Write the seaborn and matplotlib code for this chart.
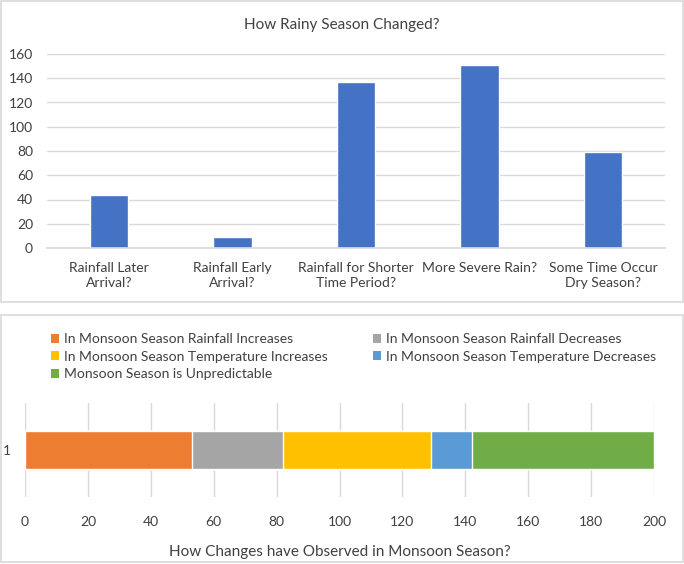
import numpy as np
import pandas as pd
import matplotlib
matplotlib.use("Agg")
import matplotlib.pyplot as plt
from matplotlib.patches import Rectangle, Patch
import seaborn as sns

# ---- data ----
rain_categories = ["Rainfall Later\nArrival?", "Rainfall Early\nArrival?",
                   "Rainfall for Shorter\nTime Period?", "More Severe Rain?",
                   "Some Time Occur\nDry Season?"]
rain_values = [44, 9, 137, 151, 79]
rain_yticks = [0, 20, 40, 60, 80, 100, 120, 140, 160]

monsoon_series = ["In Monsoon Season Rainfall Increases",
                  "In Monsoon Season Rainfall Decreases",
                  "In Monsoon Season Temperature Increases",
                  "In Monsoon Season Temperature Decreases",
                  "Monsoon Season is Unpredictable"]
monsoon_values = [53, 29, 47, 13, 58]
monsoon_colors = ["#ED7D31", "#A5A5A5", "#FFC000", "#5B9BD5", "#70AD47"]
monsoon_xticks = [0, 20, 40, 60, 80, 100, 120, 140, 160, 180, 200]
monsoon_category = "1"

sns.set_theme(style="white")
plt.rcParams["font.family"] = ["Lato", "DejaVu Sans"]
TXT = "#404040"
GRID = "#D9D9D9"

W, H = 684, 564
fig = plt.figure(figsize=(W / 100, H / 100), dpi=100)

def fx(px):
    return px / W

def fy(py):
    return 1 - py / H

# panel borders
for (x0, y0, x1, y1) in [(1, 1, 683, 302), (1, 315, 683, 562)]:
    fig.patches.append(Rectangle((fx(x0), fy(y1)), fx(x1) - fx(x0), fy(y0) - fy(y1),
                                 transform=fig.transFigure, fill=False,
                                 edgecolor=GRID, linewidth=1.2))

# ---- top chart ----
ax1 = fig.add_axes([fx(47), fy(248), fx(665) - fx(47), fy(54) - fy(248)])
df1 = pd.DataFrame({"cat": rain_categories, "val": rain_values})
sns.barplot(data=df1, x="cat", y="val", color="#4472C4", saturation=1,
            width=0.31, ax=ax1)
ax1.set_ylim(0, 160)
ax1.set_yticks(rain_yticks)
ax1.yaxis.grid(True, color=GRID, linewidth=1)
ax1.set_axisbelow(True)
for s in ["top", "right", "left"]:
    ax1.spines[s].set_visible(False)
ax1.spines["bottom"].set_color(GRID)
ax1.set_xlabel("")
ax1.set_ylabel("")
ax1.tick_params(axis="both", length=0, colors=TXT, labelsize=10)
ax1.tick_params(axis="x", pad=10)
ax1.tick_params(axis="y", pad=10)
for lab in ax1.get_xticklabels():
    lab.set_linespacing(1.35)
fig.text(fx(342), fy(25), "How Rainy Season Changed?", ha="center", va="center",
         fontsize=11, color=TXT)

# ---- bottom chart ----
ax2 = fig.add_axes([fx(25), fy(497), fx(654) - fx(25), fy(403) - fy(497)])
cum = np.cumsum(monsoon_values)
for i in range(len(monsoon_values) - 1, -1, -1):
    d = pd.DataFrame({"cat": [monsoon_category], "val": [cum[i]]})
    sns.barplot(data=d, y="cat", x="val", orient="h", color=monsoon_colors[i],
                saturation=1, width=0.4, ax=ax2)
ax2.set_xlim(0, 200)
ax2.set_xticks(monsoon_xticks)
ax2.xaxis.grid(True, color=GRID, linewidth=1)
ax2.set_axisbelow(True)
for s in ax2.spines.values():
    s.set_visible(False)
ax2.set_ylabel("")
ax2.set_xlabel("How Changes have Observed in Monsoon Season?", fontsize=11,
               color=TXT, labelpad=12)
ax2.tick_params(axis="both", length=0, colors=TXT, labelsize=10)
ax2.tick_params(axis="x", pad=14)
ax2.tick_params(axis="y", pad=10)

order = [0, 2, 4, 1, 3]
handles = [Patch(facecolor=monsoon_colors[i], edgecolor="none") for i in order]
labels = [monsoon_series[i] for i in order]
fig.legend(handles, labels, ncol=2, loc="upper left",
           bbox_to_anchor=(fx(51), fy(333)), frameon=False, fontsize=10,
           labelcolor=TXT, handlelength=0.6, handleheight=0.6, handletextpad=0.3,
           columnspacing=3.3, labelspacing=0.4, borderaxespad=0, borderpad=0)

fig.savefig("out.png", dpi=100)
